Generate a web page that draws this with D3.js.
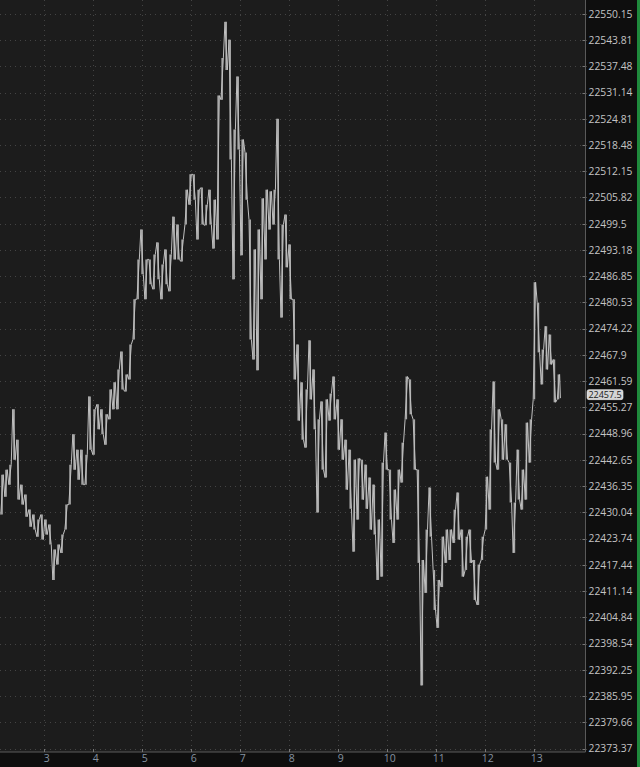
<!DOCTYPE html>
<html><head><meta charset="utf-8">
<script src="https://cdn.jsdelivr.net/npm/d3@7"></script>
<style>html,body{margin:0;padding:0;background:#0e0e0e;overflow:hidden}svg{display:block}</style>
</head><body>
<svg id="c" width="640" height="767"></svg>
<script>
// ---- data ----
const dayTicks = [3,4,5,6,7,8,9,10,11,12,13];
const priceTicks = [22550.15,22543.81,22537.48,22531.14,22524.81,22518.48,22512.15,22505.82,22499.5,22493.18,22486.85,22480.53,22474.22,22467.9,22461.59,22455.27,22448.96,22442.65,22436.35,22430.04,22423.74,22417.44,22411.14,22404.84,22398.54,22392.25,22385.95,22379.66,22373.37];
const highs = [22439.1,22440.3,22441.5,22454.8,22447.5,22436.7,22434.3,22430.7,22429.5,22428.3,22429.5,22428.3,22427.1,22421.1,22422.3,22424.7,22431.9,22441.5,22448.8,22445.1,22445.1,22443.9,22457.9,22454.8,22456.0,22454.8,22453.6,22459.6,22461.3,22464.4,22468.7,22463.2,22470.4,22481.3,22490.9,22498.1,22490.9,22490.9,22492.1,22495.0,22489.7,22493.3,22492.1,22501.2,22499.3,22495.7,22507.7,22511.4,22511.4,22507.7,22508.2,22504.1,22507.7,22505.3,22530.4,22539.5,22548.2,22543.9,22522.2,22535.0,22519.8,22516.7,22500.5,22493.3,22498.1,22505.6,22507.7,22507.3,22507.7,22524.8,22499.3,22501.7,22494.5,22481.3,22470.4,22461.3,22459.6,22471.4,22464.4,22452.4,22456.7,22457.2,22458.6,22462.7,22457.2,22452.4,22447.5,22445.1,22442.7,22443.0,22442.7,22441.5,22438.4,22436.7,22428.3,22442.0,22449.2,22440.3,22435.5,22440.3,22446.8,22462.7,22462.0,22452.4,22440.3,22418.6,22425.9,22436.0,22416.2,22413.8,22424.2,22425.9,22425.9,22430.7,22434.8,22425.9,22424.2,22425.9,22418.6,22417.5,22424.2,22438.6,22450.0,22461.5,22454.8,22452.4,22451.2,22442.0,22432.4,22445.1,22440.3,22451.6,22452.4,22485.4,22480.5,22469.2,22474.8,22472.8,22466.8,22463.2];
const lows = [22429.5,22433.8,22436.7,22442.7,22433.1,22431.9,22429.0,22426.6,22425.9,22424.2,22423.5,22424.7,22422.3,22413.8,22417.5,22420.3,22425.9,22431.9,22440.3,22437.9,22436.7,22436.7,22445.1,22443.9,22450.0,22448.8,22446.3,22452.4,22454.8,22454.8,22459.6,22459.1,22462.0,22471.6,22481.3,22487.3,22481.3,22484.9,22483.7,22486.1,22481.3,22484.9,22483.2,22490.9,22490.9,22490.4,22499.3,22504.1,22505.3,22495.7,22499.3,22499.1,22499.3,22493.5,22495.7,22529.4,22536.6,22515.0,22486.1,22517.4,22491.9,22505.3,22471.6,22466.8,22464.2,22481.3,22490.9,22498.1,22499.3,22490.9,22476.9,22489.0,22481.3,22462.0,22452.1,22447.5,22445.6,22457.2,22450.0,22430.0,22440.3,22438.4,22452.1,22452.4,22445.1,22442.7,22435.5,22430.9,22420.6,22428.3,22433.1,22430.9,22425.9,22424.7,22413.8,22414.6,22440.3,22428.3,22422.7,22428.3,22437.2,22452.4,22453.6,22440.3,22417.9,22388.5,22410.7,22424.2,22406.6,22402.3,22412.1,22417.9,22418.6,22422.7,22423.5,22414.6,22416.2,22417.9,22409.0,22407.8,22418.6,22425.9,22430.7,22442.0,22440.3,22442.7,22442.7,22432.4,22420.3,22433.1,22430.7,22433.1,22442.0,22457.2,22468.5,22460.8,22464.4,22465.6,22456.5,22457.2];
const lastPrice = 22457.5;
const startDay = 2.136, stepDay = 0.0817;

// ---- layout ----
const W = 640, H = 767, plotR = 585.5, plotB = 752;
const svg = d3.select("#c");
svg.append("rect").attr("width", W).attr("height", H).attr("fill", "#0e0e0e");
svg.append("rect").attr("width", plotR).attr("height", plotB).attr("fill", "#1c1c1c");
svg.append("rect").attr("x", 637).attr("width", 3).attr("height", H).attr("fill", "#1f8a3c");

const x = d3.scaleLinear().domain([2.095, 14.045]).range([0, plotR]);
const y = d3.scaleLog().domain([22373.37, 22550.15]).range([748.5, 13.8]);

// grid
const g = svg.append("g");
g.selectAll("line.h").data(priceTicks).join("line")
  .attr("x1", 0).attr("x2", plotR).attr("y1", d => Math.round(y(d)) + 0.5).attr("y2", d => Math.round(y(d)) + 0.5)
  .attr("stroke", "#444").attr("stroke-width", 1).attr("stroke-dasharray", "1,4");
g.selectAll("line.v").data(dayTicks).join("line")
  .attr("y1", 0).attr("y2", plotB).attr("x1", d => Math.round(x(d)) + 0.5).attr("x2", d => Math.round(x(d)) + 0.5)
  .attr("stroke", "#444").attr("stroke-width", 1).attr("stroke-dasharray", "1,4");

// price series (high/low per bar)
const bars = highs.map((h, i) => ({ t: startDay + i * stepDay, h, l: lows[i] }));
svg.append("g").selectAll("line").data(bars).join("line")
  .attr("x1", d => x(d.t)).attr("x2", d => x(d.t))
  .attr("y1", d => y(d.h)).attr("y2", d => y(d.l))
  .attr("stroke", "#a8a8a8").attr("stroke-width", 1.6);
const pts = [];
bars.forEach((d, i) => {
  const nxt = bars[i + 1];
  const up = nxt ? (nxt.h + nxt.l) > (d.h + d.l) : true;
  const a = up ? d.l : d.h, b = up ? d.h : d.l;
  pts.push([d.t - stepDay * 0.3, a], [d.t + stepDay * 0.3, b]);
});
pts.push([bars[bars.length - 1].t + stepDay * 0.5, lastPrice]);
svg.append("path").datum(pts)
  .attr("d", d3.line().x(d => x(d[0])).y(d => y(d[1])))
  .attr("fill", "none").attr("stroke", "#c0c0c0").attr("stroke-width", 1);

// right axis
const ra = svg.append("g").attr("transform", `translate(${plotR},0)`)
  .call(d3.axisRight(y).tickValues(priceTicks).tickFormat(d => String(d)).tickSize(0).tickPadding(3));
ra.select(".domain").remove();
ra.selectAll("text").attr("fill", "#c4c4c4").style("font-family", "'Open Sans', sans-serif").style("font-size", "10.3px");
svg.append("g").selectAll("line").data(priceTicks).join("line")
  .attr("x1", plotR - 3).attr("x2", plotR + 1).attr("y1", d => Math.round(y(d)) + 0.5).attr("y2", d => Math.round(y(d)) + 0.5)
  .attr("stroke", "#777");
svg.append("line").attr("x1", plotR).attr("x2", plotR).attr("y1", 0).attr("y2", plotB)
  .attr("stroke", "#5a5a5a");

// bottom axis
svg.append("line").attr("x1", 0).attr("x2", plotR).attr("y1", plotB).attr("y2", plotB).attr("stroke", "#5a5a5a");
const ba = svg.append("g").attr("transform", `translate(2,${plotB})`)
  .call(d3.axisBottom(x).tickValues(dayTicks).tickFormat(d => String(d)).tickSize(0).tickPadding(3));
ba.select(".domain").remove();
ba.selectAll("text").attr("fill", "#8592a0").style("font-family", "'Open Sans', sans-serif").style("font-size", "10.5px");
svg.append("g").selectAll("line").data(dayTicks).join("line")
  .attr("x1", d => Math.round(x(d)) + 0.5).attr("x2", d => Math.round(x(d)) + 0.5)
  .attr("y1", plotB - 3).attr("y2", plotB).attr("stroke", "#777");

// last price label
const ly = y(lastPrice) - 3.5;
const lbl = svg.append("g").attr("transform", `translate(${plotR + 1.5},${ly})`);
lbl.append("rect").attr("x", 0).attr("y", -5).attr("width", 36).attr("height", 10).attr("rx", 2)
  .attr("fill", "#d4d4d4").attr("stroke", "#f0f0f0").attr("stroke-width", 0.6);
lbl.append("text").attr("x", 18).attr("y", 0).attr("dy", "0.34em").attr("text-anchor", "middle")
  .attr("fill", "#1a1a1a").style("font-family", "'Open Sans', sans-serif").style("font-size", "9px").text(String(lastPrice));
</script>
</body></html>
